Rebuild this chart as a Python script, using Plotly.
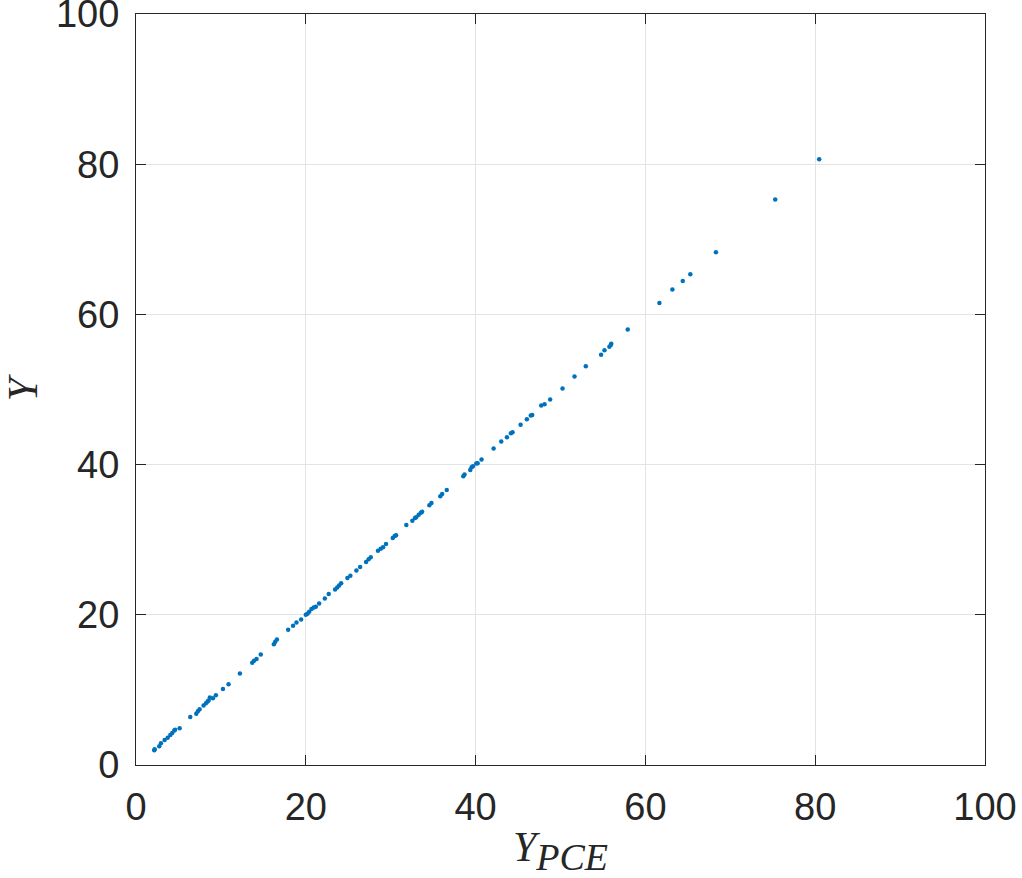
import plotly.graph_objects as go

# Data (Y_PCE vs Y)
y_pce = [2.15, 2.2, 2.74, 2.94, 3.37, 3.73, 4.04, 4.27, 4.51, 4.6, 5.14, 6.39, 7.1, 7.29, 7.49,
         7.96, 8.24, 8.43, 8.55, 8.7, 9.06, 9.41, 10.24, 10.9, 12.24, 13.69, 13.9, 14.2, 14.7,
         16.24, 16.4, 16.6, 17.92, 18.5, 18.9, 19.45, 20.0, 20.2, 20.4, 20.67, 20.94, 21.18,
         21.57, 22.24, 22.7, 23.45, 23.7, 23.92, 24.16, 24.9, 25.25, 25.96, 26.4, 27.1, 27.4,
         27.65, 28.5, 28.82, 29.1, 29.45, 30.24, 30.47, 30.63, 31.84, 32.55, 32.86, 33.0, 33.3,
         33.56, 33.7, 34.55, 34.8, 35.84, 36.06, 36.6, 38.55, 38.7, 39.37, 39.53, 39.69, 40.08,
         40.24, 40.7, 42.12, 43.02, 43.69, 44.16, 44.35, 45.3, 46.04, 46.5, 46.67, 47.73, 48.12,
         48.78, 50.24, 51.65, 52.98, 54.78, 55.18, 55.76, 55.92, 55.98, 57.92, 61.65, 63.18,
         64.4, 65.29, 68.31, 75.29, 80.47]
y_true = [1.96, 2.1, 2.49, 2.89, 3.33, 3.64, 4.0, 4.27, 4.58, 4.7, 4.89, 6.4, 6.84, 7.16, 7.42,
          7.91, 8.22, 8.44, 8.6, 8.98, 8.9, 9.29, 10.13, 10.76, 12.18, 13.6, 13.87, 14.13, 14.7,
          16.09, 16.4, 16.7, 18.0, 18.53, 18.98, 19.38, 20.0, 20.13, 20.4, 20.76, 20.98, 21.07,
          21.51, 22.18, 22.76, 23.38, 23.64, 23.91, 24.2, 24.89, 25.2, 25.9, 26.36, 27.02, 27.4,
          27.67, 28.53, 28.8, 28.98, 29.42, 30.22, 30.49, 30.58, 31.96, 32.53, 32.9, 33.0, 33.33,
          33.6, 33.73, 34.58, 34.9, 35.78, 36.09, 36.62, 38.44, 38.67, 39.29, 39.64, 39.78, 40.13,
          40.18, 40.67, 42.13, 43.07, 43.64, 44.18, 44.31, 45.29, 46.04, 46.53, 46.62, 47.87, 48.04,
          48.67, 50.13, 51.73, 53.11, 54.62, 55.24, 55.69, 55.91, 56.09, 58.0, 61.51, 63.33,
          64.44, 65.33, 68.27, 75.29, 80.67]
tick_vals = [0, 20, 40, 60, 80, 100]
tick_text = ["0", "20", "40", "60", "80", "100"]

axis_color = "#262626"
fig = go.Figure()
fig.add_trace(go.Scatter(
    x=y_pce, y=y_true, mode="markers",
    marker=dict(color="#0072BD", size=4.5, line=dict(width=0)),
    showlegend=False,
    cliponaxis=False,
))

common = dict(
    range=[0, 100], tickvals=tick_vals, ticktext=tick_text,
    showline=True, linecolor=axis_color, linewidth=1, mirror="ticks",
    ticks="inside", ticklen=10, tickcolor=axis_color, tickwidth=1,
    showgrid=True, gridcolor="#e3e3e3", gridwidth=1, zeroline=False,
    automargin=False, ticklabeloverflow="allow",
    tickfont=dict(family="Liberation Sans, Arial, sans-serif", size=38, color=axis_color),
)
fig.update_xaxes(
    **common,
    ticklabelstandoff=8,
    title=dict(text="<i>Y</i><sub><i><span style=\"font-size:38px\">PCE</span></i></sub>",
               font=dict(family="Liberation Serif, serif", size=42, color=axis_color),
               standoff=8),
)
fig.update_yaxes(
    **common,
    ticklabelstandoff=8,
    title=dict(text="<i>Y</i>",
               font=dict(family="Liberation Serif, serif", size=42, color=axis_color),
               standoff=30),
)
fig.update_layout(
    width=1022, height=878,
    margin=dict(l=136, r=37, t=14, b=113),
    paper_bgcolor="white", plot_bgcolor="white",
)
fig.write_html("out.html")
